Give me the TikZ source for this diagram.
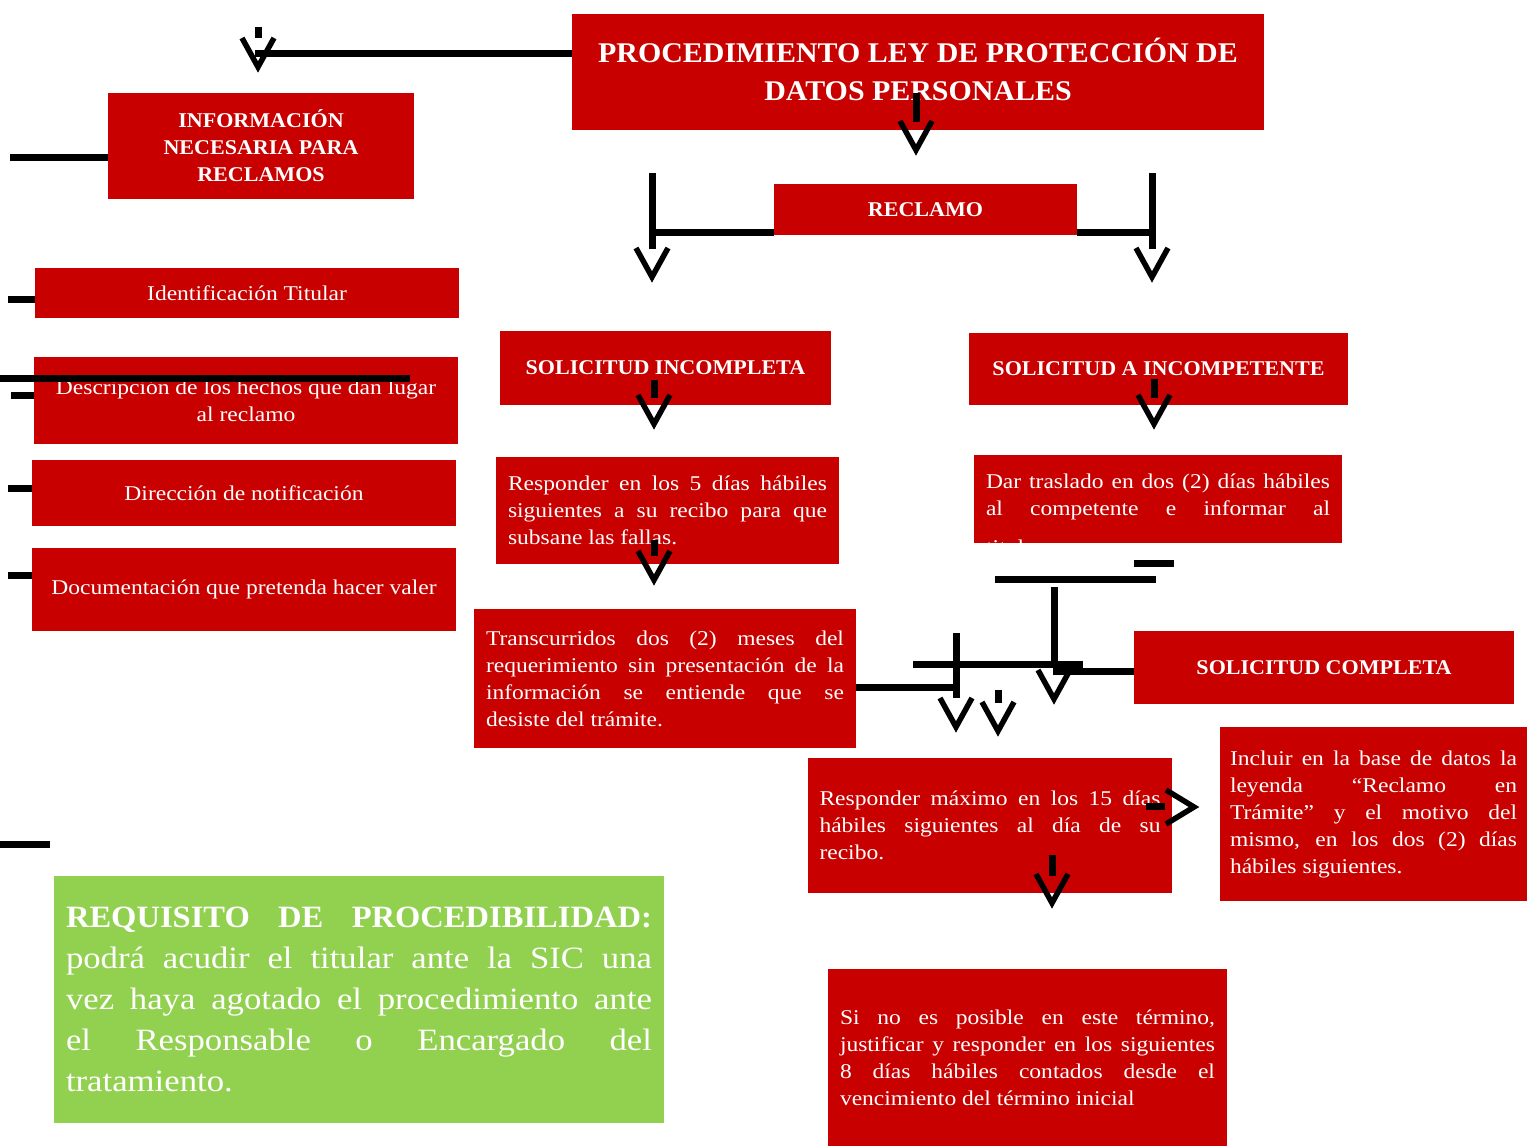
\documentclass[tikz,border=0pt]{standalone}
\usepackage{fontspec}
\setmainfont{Liberation Serif}[FakeStretch=1.12,BoldFeatures={FakeStretch=1.05}]
\usetikzlibrary{calc}

\definecolor{boxred}{HTML}{C80000}
\definecolor{reqgreen}{HTML}{92D050}

\tikzset{
  redbox/.style={fill=boxred,text=white,inner sep=0pt,align=center,
    font=\fontsize{21}{27}\selectfont},
  headbox/.style={redbox,font=\bfseries\fontsize{21}{27}\selectfont},
  parbox/.style={redbox,align=justify},
  conn/.style={line width=7pt},
  chev/.style={line width=5.5pt,line join=miter},
}

\begin{document}
\begin{tikzpicture}[x=1pt,y=-1pt]
  \useasboundingbox (0,0) rectangle (1527,1146);

  % boxes
  \node[redbox,minimum width=692,minimum height=116] (titulo) at (918,72) {};
  \node[headbox,fill=none,font=\bfseries\fontsize{28.5}{38}\selectfont] (titulotxt) at (918,69)
    {PROCEDIMIENTO LEY DE PROTECCIÓN DE\\DATOS PERSONALES};
  \node[headbox,minimum width=306,minimum height=106] (info) at (261,146)
    {INFORMACIÓN\\NECESARIA PARA\\RECLAMOS};
  \node[headbox,minimum width=303,minimum height=51] (reclamo) at (925.5,209.5) {RECLAMO};

  \node[redbox,minimum width=424,minimum height=50] (ident) at (247,293) {Identificación Titular};
  \node[redbox,minimum width=424,minimum height=87] (desc) at (246,400.5)
    {Descripción de los hechos que dan lugar\\al reclamo};
  \node[redbox,minimum width=424,minimum height=66] (direc) at (244,493) {Dirección de notificación};
  \node[redbox,minimum width=424,minimum height=83] (docum) at (244,589.5)
    {Documentación que pretenda hacer valer};

  \node[headbox,minimum width=331,minimum height=74] (incomp) at (665.5,368) {SOLICITUD INCOMPLETA};
  \node[headbox,minimum width=379,minimum height=72] (incompet) at (1158.5,369) {SOLICITUD A INCOMPETENTE};
  \node[headbox,minimum width=380,minimum height=73] (completa) at (1324,667.5) {SOLICITUD COMPLETA};

  \node[parbox,text width=319,minimum width=343,minimum height=107] (resp5) at (667.5,510.5)
    {Responder en los 5 días hábiles\linebreak siguientes a su recibo para que\linebreak subsane las fallas.};
  \node[fill=boxred,minimum width=368,minimum height=88,inner sep=0pt] (traslado) at (1158,499) {};
  \node[parbox,fill=none,text width=344] (trasladotxt) at (1158,508)
    {Dar traslado en dos (2) días hábiles\linebreak al competente e informar al\linebreak\mbox{}};
  \begin{scope}
    \clip (traslado.north west) rectangle (traslado.south east);
    \node[redbox,fill=none,anchor=base west] (titular) at (986,554) {titular.};
  \end{scope}
  \node[parbox,text width=358,minimum width=382,minimum height=139] (transc) at (665,678.5)
    {Transcurridos dos (2) meses del\linebreak requerimiento sin presentación de la\linebreak información se entiende que se\linebreak desiste del trámite.};
  \node[parbox,text width=341,minimum width=364,minimum height=135] (resp15) at (990,825.5)
    {Responder máximo en los 15 días\linebreak hábiles siguientes al día de su\linebreak recibo.};
  \node[parbox,text width=287,minimum width=307,minimum height=174] (incluir) at (1373.5,814)
    {Incluir en la base de datos la\linebreak leyenda “Reclamo en\linebreak Trámite” y el motivo del\linebreak mismo, en los dos (2) días\linebreak hábiles siguientes.};
  \node[parbox,text width=375,minimum width=399,minimum height=177] (sino) at (1027.5,1057.5)
    {Si no es posible en este término,\linebreak justificar y responder en los siguientes\linebreak 8 días hábiles contados desde el\linebreak vencimiento del término inicial};
  \node[parbox,fill=reqgreen,text width=586,minimum width=610,minimum height=247,
    font=\fontsize{31}{41}\selectfont] (requisito) at (359,999.5)
    {{\bfseries REQUISITO DE PROCEDIBILIDAD:}\linebreak podrá acudir el titular ante la SIC una\linebreak vez haya agotado el procedimiento ante\linebreak el Responsable o Encargado del\linebreak tratamiento.};

  % connectors
  \draw[conn] (titulo.west |- 0,53) -- (255,53);
  \draw[conn] (258,27) -- (258,38);
  \draw[conn] (916,93) -- (916,122);
  \draw[conn] (reclamo.west |- 0,232) -- (652,232);
  \draw[conn] (652,173) -- (652,249);
  \draw[conn] (reclamo.east |- 0,232) -- (1152,232);
  \draw[conn] (1152,173) -- (1152,249);
  \draw[conn] (10,157) -- (info.west |- 0,157);
  \draw[conn] (8,299) -- (ident.west |- 0,299);
  \draw[conn] (0,378) -- (410,378);
  \draw[conn] (11,395) -- (desc.west |- 0,395);
  \draw[conn] (8,488) -- (direc.west |- 0,488);
  \draw[conn] (8,575) -- (docum.west |- 0,575);
  \draw[conn] (0,844) -- (50,844);
  \draw[conn] (654,380) -- (654,398);
  \draw[conn] (654,540) -- (654,556);
  \draw[conn] (1154,379) -- (1154,398);
  \draw[conn] (1134,563) -- (1174,563);
  \draw[conn] (995,579) -- (1156,579);
  \draw[conn] (1054,587) -- (1054,667);
  \draw[conn] (913,664) -- (1083,664);
  \draw[conn] (956,633) -- (956,698);
  \draw[conn] (transc.east |- 0,687) -- (956,687);
  \draw[conn] (1053,671) -- (completa.west |- 0,671);
  \draw[conn] (998,690) -- (998,703);
  \draw[conn] (1146,806) -- (1165,806);
  \draw[conn] (1052,855) -- (1052,876);

  % arrow tips
  \foreach \x/\y in {258/67,916/150,652/277,1152/277,654/424,654/580,
                     1154/424,1054/699,956/727,998/731,1052/903}
    \draw[chev] (\x-16,\y-29) -- (\x,\y) -- (\x+16,\y-29);
  \draw[chev] (1166,790) -- (1194,807) -- (1166,824);
\end{tikzpicture}
\end{document}
